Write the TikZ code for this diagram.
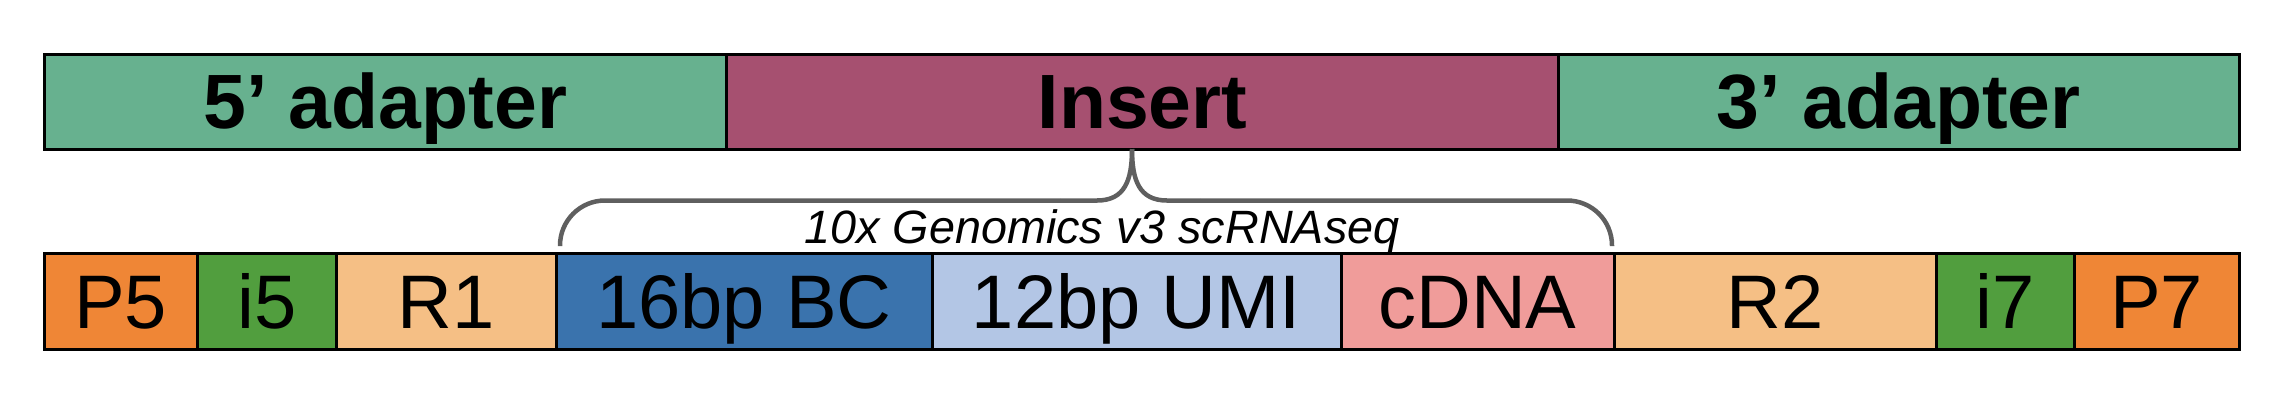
\documentclass[tikz,border=0pt]{standalone}
\usepackage{fontspec}
\setmainfont{Liberation Sans}
\usepackage{xcolor}
\usetikzlibrary{positioning}

\definecolor{adaptcol}{RGB}{103,177,143}
\definecolor{insertcol}{RGB}{166,80,112}
\definecolor{pcol}{RGB}{239,134,54}
\definecolor{icol}{RGB}{81,158,62}
\definecolor{rcol}{RGB}{245,191,133}
\definecolor{bccol}{RGB}{58,115,173}
\definecolor{umicol}{RGB}{179,198,229}
\definecolor{cdnacol}{RGB}{240,156,154}
\definecolor{bracecol}{RGB}{95,95,95}

\begin{document}
\begin{tikzpicture}[
  topseg/.style={draw=black, line width=0.03cm, minimum height=0.95cm, inner sep=0pt,
    outer sep=0pt, anchor=west, text height=0.54cm, text depth=0pt,
    font=\fontsize{21.9}{26}\selectfont\bfseries},
  botseg/.style={draw=black, line width=0.03cm, minimum height=0.96cm, inner sep=0pt,
    outer sep=0pt, anchor=west, text height=0.55cm, text depth=0pt,
    font=\fontsize{21.6}{26}\selectfont},
  bracket/.style={draw=bracecol, line width=0.045cm, rounded corners=0.45cm},
  protolabel/.style={font=\fontsize{13.3}{16}\selectfont\itshape, anchor=base}
]
\useasboundingbox (0,0) rectangle (22.92,-4.18);

% library structure
\node[topseg, fill=adaptcol, minimum width=6.825cm] (ad5) at (0.44,-1.015) {5’ adapter};
\node[topseg, fill=insertcol, minimum width=8.32cm] (ins) at (ad5.east) {Insert};
\node[topseg, fill=adaptcol, minimum width=6.805cm] (ad3) at (ins.east) {3’ adapter};

% read layout
\node[botseg, fill=pcol, minimum width=1.535cm] (p5) at (0.44,-3.01) {P5};
\node[botseg, fill=icol, minimum width=1.385cm] (i5) at (p5.east) {i5};
\node[botseg, fill=rcol, minimum width=2.2cm] (r1) at (i5.east) {R1};
\node[botseg, fill=bccol, minimum width=3.76cm] (bc) at (r1.east) {16bp BC};
\node[botseg, fill=umicol, minimum width=4.09cm] (umi) at (bc.east) {12bp UMI};
\node[botseg, fill=cdnacol, minimum width=2.73cm] (cdna) at (umi.east) {cDNA};
\node[botseg, fill=rcol, minimum width=3.225cm] (r2) at (cdna.east) {R2};
\node[botseg, fill=icol, minimum width=1.375cm] (i7) at (r2.east) {i7};
\node[botseg, fill=pcol, minimum width=1.65cm] (p7) at (i7.east) {P7};

% bracket from insert to read segments
\coordinate (brl) at ([xshift=0.04cm, yshift=0.07cm]bc.north west);
\coordinate (brr) at ([xshift=-0.02cm, yshift=0.07cm]cdna.north east);
\coordinate (tip) at ([xshift=-0.105cm]ins.south);
\draw[bracket] (brl) |- (10.6,-2.005);
\draw[draw=bracecol, line width=0.045cm] (10.6,-2.005) -- (10.97,-2.005)
  .. controls (11.25,-2.005) and (11.32,-1.8) .. (tip);
\draw[draw=bracecol, line width=0.045cm] (tip) .. controls (11.32,-1.8) and (11.39,-2.005) .. (11.67,-2.005) -- (12.0,-2.005);
\draw[bracket] (12.0,-2.005) -| (brr);
\node[protolabel] (proto) at (11.02,-2.43) {10x Genomics v3 scRNAseq};
\end{tikzpicture}
\end{document}
